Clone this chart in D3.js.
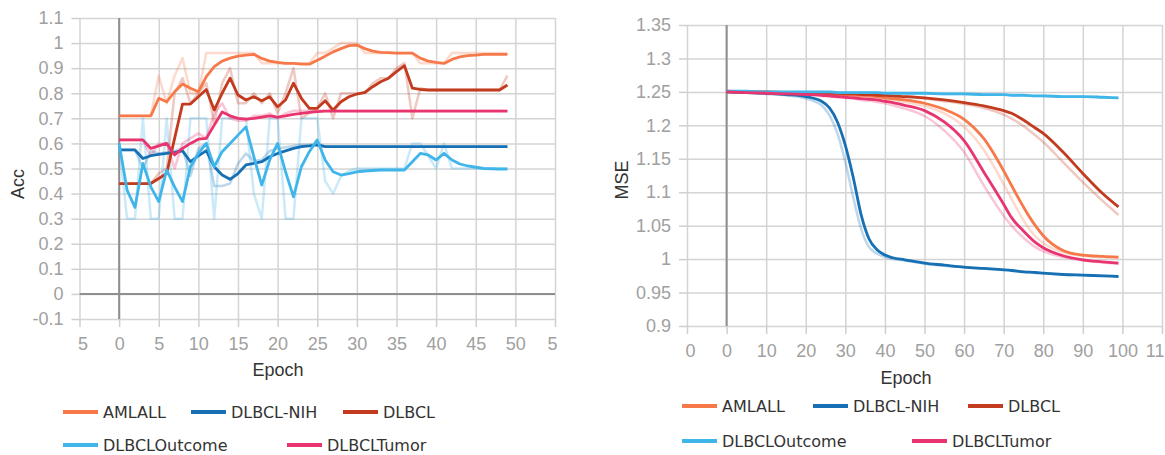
<!DOCTYPE html>
<html>
<head>
<meta charset="utf-8">
<script src="https://cdn.jsdelivr.net/npm/d3@7"></script>
<style>
  html, body { margin: 0; padding: 0; background: #fff; }
  svg { display: block; }
  .tick text { font-family: "Liberation Sans", Arial, sans-serif; font-size: 18px; fill: #a0a0a0; }
  .axis-title { font-family: "Liberation Sans", Arial, sans-serif; font-size: 18px; fill: #333; }
  .legend-text { font-family: "DejaVu Sans", Verdana, sans-serif; font-size: 16px; fill: #333; }
</style>
</head>
<body>
<svg id="chart" width="1165" height="455"></svg>
<script>
// ---------- series ----------
const seriesNames  = ["AMLALL", "DLBCL-NIH", "DLBCL", "DLBCLOutcome", "DLBCLTumor"];
const seriesColors = ["#f7794a", "#1670b3", "#c33b1f", "#3fb5ea", "#e8346f"];

// ---------- accuracy panel ----------
const accEpochs = [0,1,2,3,4,5,6,7,8,9,10,11,12,13,14,15,16,17,18,19,20,21,22,23,24,25,26,27,28,29,
                   30,31,32,33,34,35,36,37,38,39,40,41,42,43,44,45,46,47,48,49];

// smoothed curves
const amlallAcc  = [0.71,0.71,0.71,0.71,0.71,0.78,0.766,0.806,0.837,0.82,0.806,0.866,0.906,0.928,0.94,
                    0.948,0.952,0.955,0.939,0.928,0.923,0.919,0.919,0.916,0.916,0.932,0.948,0.965,0.978,0.99,
                    0.992,0.978,0.968,0.963,0.962,0.96,0.96,0.96,0.94,0.928,0.923,0.919,0.935,0.945,0.95,
                    0.952,0.955,0.955,0.955,0.955];
const nihAcc     = [0.574,0.574,0.574,0.54,0.551,0.556,0.56,0.564,0.57,0.527,0.55,0.571,0.507,0.474,0.457,
                    0.48,0.514,0.52,0.527,0.547,0.56,0.57,0.58,0.587,0.59,0.594,0.587,0.587,0.587,0.587,
                    0.587,0.587,0.587,0.587,0.587,0.587,0.587,0.587,0.587,0.587,0.587,0.587,0.587,0.587,0.587,
                    0.587,0.587,0.587,0.587,0.587];
const dlbclAcc   = [0.44,0.44,0.44,0.44,0.44,0.46,0.48,0.62,0.757,0.757,0.786,0.815,0.733,0.80,0.86,
                    0.793,0.773,0.786,0.77,0.786,0.746,0.773,0.84,0.78,0.74,0.74,0.77,0.733,0.766,0.786,
                    0.797,0.803,0.826,0.846,0.86,0.886,0.91,0.82,0.815,0.813,0.813,0.813,0.813,0.813,0.813,
                    0.813,0.813,0.813,0.813,0.833];
const outcomeAcc = [0.60,0.414,0.345,0.52,0.427,0.368,0.494,0.427,0.368,0.507,0.56,0.60,0.507,0.567,0.60,
                    0.633,0.666,0.547,0.434,0.534,0.60,0.487,0.387,0.507,0.567,0.614,0.534,0.487,0.474,0.48,
                    0.487,0.49,0.492,0.494,0.494,0.494,0.494,0.527,0.56,0.554,0.534,0.56,0.534,0.518,0.51,
                    0.505,0.50,0.499,0.498,0.498];
const tumorAcc   = [0.614,0.614,0.614,0.614,0.58,0.59,0.60,0.554,0.58,0.60,0.617,0.62,0.673,0.725,0.71,
                    0.70,0.697,0.70,0.705,0.71,0.705,0.71,0.716,0.72,0.724,0.727,0.729,0.729,0.729,0.729,
                    0.729,0.729,0.729,0.729,0.729,0.729,0.729,0.729,0.729,0.729,0.729,0.729,0.729,0.729,0.729,
                    0.729,0.729,0.729,0.729,0.729];

// raw (unsmoothed) curves, drawn faint
const amlallAccRaw  = [0.71,0.71,0.71,0.71,0.71,0.87,0.76,0.87,0.94,0.80,0.80,0.96,0.96,0.96,0.96,
                       0.96,0.96,0.96,0.92,0.92,0.92,0.92,0.92,0.92,0.92,0.96,0.96,0.98,1.0,1.0,
                       1.0,0.96,0.96,0.96,0.96,0.96,0.96,0.96,0.92,0.92,0.92,0.92,0.96,0.96,0.96,
                       0.96,0.96,0.96,0.96,0.96];
const nihAccRaw     = [0.574,0.574,0.574,0.50,0.57,0.56,0.565,0.57,0.58,0.47,0.58,0.60,0.43,0.43,0.44,
                       0.52,0.56,0.53,0.535,0.57,0.58,0.585,0.59,0.595,0.595,0.60,0.587,0.587,0.587,0.587,
                       0.587,0.587,0.587,0.587,0.587,0.587,0.587,0.587,0.587,0.587,0.587,0.587,0.587,0.587,0.587,
                       0.587,0.587,0.587,0.587,0.587];
const dlbclAccRaw   = [0.44,0.44,0.44,0.44,0.44,0.48,0.50,0.80,0.86,0.76,0.80,0.84,0.68,0.84,0.90,
                       0.76,0.76,0.80,0.76,0.80,0.72,0.80,0.90,0.70,0.72,0.74,0.80,0.70,0.80,0.80,
                       0.80,0.80,0.84,0.86,0.86,0.90,0.92,0.70,0.82,0.813,0.813,0.813,0.813,0.813,0.813,
                       0.813,0.813,0.813,0.813,0.87];
const outcomeAccRaw = [0.60,0.30,0.30,0.70,0.30,0.30,0.70,0.30,0.30,0.70,0.70,0.70,0.30,0.70,0.70,
                       0.70,0.70,0.40,0.30,0.70,0.70,0.30,0.30,0.70,0.70,0.70,0.45,0.40,0.47,0.49,
                       0.50,0.50,0.50,0.50,0.50,0.50,0.50,0.60,0.60,0.55,0.50,0.60,0.50,0.50,0.50,
                       0.50,0.50,0.50,0.50,0.50];
const tumorAccRaw   = [0.614,0.614,0.614,0.614,0.55,0.60,0.60,0.50,0.60,0.62,0.64,0.62,0.72,0.76,0.70,
                       0.69,0.69,0.71,0.71,0.72,0.70,0.72,0.73,0.73,0.73,0.73,0.73,0.73,0.73,0.73,
                       0.73,0.73,0.73,0.73,0.73,0.73,0.73,0.73,0.73,0.73,0.73,0.73,0.73,0.73,0.73,
                       0.73,0.73,0.73,0.73,0.73];

const accXTicks  = [-5,0,5,10,15,20,25,30,35,40,45,50,55];
const accXLabels = ["5","0","5","10","15","20","25","30","35","40","45","50","5"];
const accYTicks  = [-0.1,0,0.1,0.2,0.3,0.4,0.5,0.6,0.7,0.8,0.9,1,1.1];
const accYLabels = ["-0.1","0","0.1","0.2","0.3","0.4","0.5","0.6","0.7","0.8","0.9","1","1.1"];

// ---------- MSE panel ----------
const mseEpochs = [0,5,10,15,20,24,26,28,30,32,34,36,38,40,42,45,50,55,60,65,70,72,75,78,80,85,90,95,99];

const amlallMse  = [1.250,1.250,1.249,1.248,1.248,1.247,1.247,1.246,1.246,1.245,1.245,1.244,1.243,1.241,1.240,
                    1.238,1.233,1.224,1.209,1.180,1.132,1.110,1.078,1.050,1.035,1.013,1.006,1.004,1.003];
const nihMse     = [1.250,1.249,1.248,1.246,1.243,1.236,1.226,1.205,1.170,1.122,1.066,1.030,1.014,1.006,1.002,
                    0.999,0.994,0.991,0.988,0.986,0.984,0.983,0.981,0.980,0.979,0.977,0.976,0.975,0.974];
const dlbclMse   = [1.251,1.250,1.250,1.249,1.249,1.248,1.248,1.248,1.247,1.247,1.246,1.246,1.245,1.245,1.244,
                    1.243,1.241,1.238,1.234,1.229,1.222,1.218,1.208,1.196,1.188,1.160,1.128,1.098,1.078];
const outcomeMse = [1.251,1.251,1.250,1.250,1.250,1.250,1.250,1.249,1.249,1.249,1.249,1.249,1.249,1.248,1.248,
                    1.248,1.248,1.247,1.247,1.246,1.246,1.245,1.245,1.244,1.244,1.243,1.243,1.242,1.241];
const tumorMse   = [1.250,1.249,1.248,1.247,1.246,1.245,1.244,1.243,1.242,1.241,1.240,1.239,1.238,1.236,1.234,
                    1.230,1.222,1.205,1.177,1.130,1.082,1.062,1.042,1.025,1.017,1.005,0.999,0.996,0.994];

const amlallMseRaw  = [1.250,1.250,1.249,1.248,1.248,1.247,1.246,1.246,1.245,1.245,1.244,1.243,1.242,1.240,1.238,
                       1.235,1.229,1.218,1.198,1.163,1.112,1.090,1.058,1.034,1.024,1.010,1.005,1.003,1.002];
const nihMseRaw     = [1.250,1.249,1.247,1.245,1.240,1.230,1.215,1.188,1.145,1.092,1.045,1.018,1.008,1.003,1.000,
                       0.998,0.993,0.990,0.988,0.986,0.984,0.983,0.981,0.980,0.979,0.977,0.976,0.975,0.974];
const dlbclMseRaw   = [1.251,1.250,1.250,1.249,1.249,1.248,1.248,1.248,1.247,1.247,1.246,1.246,1.245,1.244,1.243,
                       1.242,1.240,1.236,1.232,1.226,1.216,1.210,1.199,1.185,1.175,1.145,1.115,1.087,1.066];
const outcomeMseRaw = [1.251,1.251,1.250,1.250,1.250,1.250,1.250,1.249,1.249,1.249,1.249,1.249,1.249,1.248,1.248,
                       1.248,1.248,1.247,1.247,1.246,1.246,1.245,1.245,1.244,1.244,1.243,1.243,1.242,1.241];
const tumorMseRaw   = [1.250,1.249,1.248,1.247,1.246,1.244,1.243,1.242,1.241,1.240,1.238,1.237,1.235,1.233,1.230,
                       1.225,1.214,1.192,1.160,1.110,1.065,1.050,1.032,1.018,1.012,1.003,0.998,0.995,0.993];

const mseXTicks  = [-10,0,10,20,30,40,50,60,70,80,90,100,110];
const mseXLabels = ["0","0","10","20","30","40","50","60","70","80","90","100","11"];
const mseYTicks  = [0.9,0.95,1,1.05,1.1,1.15,1.2,1.25,1.3,1.35];
const mseYLabels = ["0.9","0.95","1","1.05","1.1","1.15","1.2","1.25","1.3","1.35"];

// ---------- drawing ----------
const svg = d3.select("#chart");
svg.append("rect").attr("width", 1165).attr("height", 455).attr("fill", "#fff");

function drawPanel(p) {
  const x = d3.scaleLinear().domain(p.xDomain).range(p.xRange);
  const y = d3.scaleLinear().domain(p.yDomain).range(p.yRange);
  const g = svg.append("g");
  const left = p.xRange[0], right = p.xRange[1], top = p.yRange[1], bottom = p.yRange[0];

  // grid
  g.append("g").attr("transform", `translate(${left},0)`)
    .call(d3.axisLeft(y).tickValues(p.yTicks).tickSize(-(right - left)).tickFormat(""))
    .call(a => a.select(".domain").remove())
    .call(a => a.selectAll("line").attr("stroke", "#d4d4d4").attr("stroke-width", 1.5));
  g.append("g").attr("transform", `translate(0,${bottom})`)
    .call(d3.axisBottom(x).tickValues(p.xTicks).tickSize(-(bottom - top)).tickFormat(""))
    .call(a => a.select(".domain").remove())
    .call(a => a.selectAll("line").attr("stroke", "#d4d4d4").attr("stroke-width", 1.5));

  // zero lines
  g.append("line").attr("x1", x(0)).attr("x2", x(0)).attr("y1", top).attr("y2", bottom)
    .attr("stroke", "#8f8f8f").attr("stroke-width", 2);
  if (p.yDomain[0] <= 0 && p.yDomain[1] >= 0) {
    g.append("line").attr("x1", left).attr("x2", right).attr("y1", y(0)).attr("y2", y(0))
      .attr("stroke", "#8f8f8f").attr("stroke-width", 2);
  }

  // axes with ticks and labels
  const ya = g.append("g").attr("transform", `translate(${left},0)`)
    .call(d3.axisLeft(y).tickValues(p.yTicks).tickSize(8).tickPadding(8)
      .tickFormat((d, i) => p.yLabels[i]));
  ya.select(".domain").remove();
  ya.selectAll("line").attr("stroke", "#cfcfcf").attr("stroke-width", 1.5);

  const xa = g.append("g").attr("transform", `translate(0,${bottom})`)
    .call(d3.axisBottom(x).tickValues(p.xTicks).tickSize(8).tickPadding(10)
      .tickFormat((d, i) => p.xLabels[i]));
  xa.select(".domain").remove();
  xa.selectAll("line").attr("stroke", "#cfcfcf").attr("stroke-width", 1.5);
  const xt = xa.selectAll(".tick text");
  xt.filter((d, i) => i === 0).attr("text-anchor", "start").attr("dx", -2);
  xt.filter((d, i, n) => i === n.length - 1).attr("text-anchor", "end").attr("dx", 2);

  // titles
  g.append("text").attr("class", "axis-title")
    .attr("x", p.xTitle[0]).attr("y", p.xTitle[1]).attr("text-anchor", "middle").text("Epoch");
  g.append("text").attr("class", "axis-title")
    .attr("transform", `translate(${p.yTitle[0]},${p.yTitle[1]}) rotate(-90)`)
    .attr("text-anchor", "middle").text(p.yName);

  // lines
  const line = d3.line().x(d => x(d[0])).y(d => y(d[1])).curve(p.curve);
  p.raw.forEach((vals, k) => {
    g.append("path").datum(p.epochs.map((e, i) => [e, vals[i]]))
      .attr("d", line).attr("fill", "none").attr("stroke", seriesColors[k])
      .attr("stroke-opacity", 0.28).attr("stroke-width", 2.5).attr("stroke-linejoin", "round");
  });
  p.smooth.forEach((vals, k) => {
    g.append("path").datum(p.epochs.map((e, i) => [e, vals[i]]))
      .attr("d", line).attr("fill", "none").attr("stroke", seriesColors[k])
      .attr("stroke-width", 2.8).attr("stroke-linejoin", "round");
  });

  // legend
  p.legend.forEach(([lx, ly], k) => {
    g.append("line").attr("x1", lx).attr("x2", lx + 35).attr("y1", ly).attr("y2", ly)
      .attr("stroke", seriesColors[k]).attr("stroke-width", 4);
    g.append("text").attr("class", "legend-text").attr("x", lx + 40).attr("y", ly + 6)
      .text(seriesNames[k]);
  });
}

drawPanel({
  xDomain: [-5, 55], xRange: [79.5, 555],
  yDomain: [-0.1, 1.1], yRange: [319, 18],
  xTicks: accXTicks, xLabels: accXLabels, yTicks: accYTicks, yLabels: accYLabels,
  xTitle: [278, 376], yTitle: [24, 184], yName: "Acc",
  epochs: accEpochs, curve: d3.curveLinear,
  smooth: [amlallAcc, nihAcc, dlbclAcc, outcomeAcc, tumorAcc],
  raw: [amlallAccRaw, nihAccRaw, dlbclAccRaw, outcomeAccRaw, tumorAccRaw],
  legend: [[63, 412], [191, 412], [343, 412], [63, 445], [287, 445]]
});

drawPanel({
  xDomain: [-10, 110], xRange: [687, 1162],
  yDomain: [0.9, 1.35], yRange: [326, 25],
  xTicks: mseXTicks, xLabels: mseXLabels, yTicks: mseYTicks, yLabels: mseYLabels,
  xTitle: [906, 384], yTitle: [628, 180], yName: "MSE",
  epochs: mseEpochs, curve: d3.curveMonotoneX,
  smooth: [amlallMse, nihMse, dlbclMse, outcomeMse, tumorMse],
  raw: [amlallMseRaw, nihMseRaw, dlbclMseRaw, outcomeMseRaw, tumorMseRaw],
  legend: [[682, 406], [813, 406], [968, 406], [682, 441], [912, 441]]
});
</script>
</body>
</html>
